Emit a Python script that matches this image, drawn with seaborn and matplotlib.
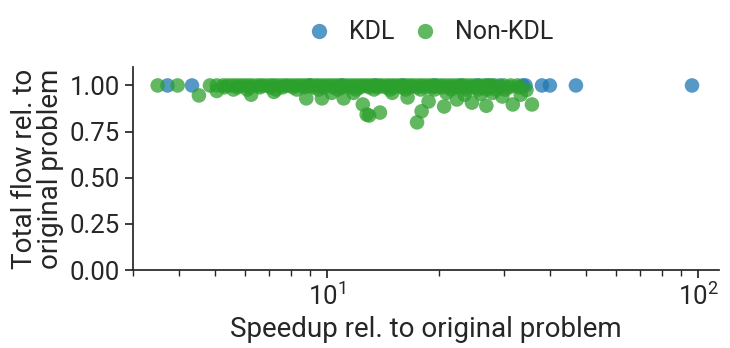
import matplotlib
matplotlib.use("Agg")
import matplotlib.pyplot as plt
import pandas as pd
import seaborn as sns

# KDL instances: speedup and relative total flow
kdl_speedup = [3.72, 4.33, 9.0, 11.0, 13.5, 16.0, 19.5, 23.0, 25.5, 27.0, 27.8,
               29.3, 33.7, 34.3, 38.0, 39.9, 46.9, 96.4]
kdl_flow = [1.0] * len(kdl_speedup)

# Non-KDL instances, main band at (almost) no flow loss
band_speedup = [
    3.5, 3.96, 4.84, 5.05, 5.25, 5.4, 5.55, 5.7, 5.85, 6.0, 6.15, 6.3, 6.5,
    6.65, 6.8, 7.0, 7.15, 7.3, 7.5, 7.7, 7.85, 8.05, 8.25, 8.45, 8.65, 8.85,
    9.05, 9.3, 9.5, 9.75, 10.0, 10.25, 10.5, 10.75, 11.0, 11.3, 11.6, 11.9,
    12.2, 12.5, 12.8, 13.1, 13.45, 13.8, 14.1, 14.5, 14.85, 15.2, 15.6, 16.0,
    16.4, 16.8, 17.2, 17.7, 18.1, 18.6, 19.1, 19.6, 20.1, 20.6, 21.2, 21.8,
    22.4, 23.0, 23.6, 24.3, 25.0, 25.8, 26.6, 27.4, 28.3, 30.0, 31.3, 32.6,
    5.3, 5.75, 6.2, 6.6, 7.05, 7.6, 8.1, 8.7, 9.2, 9.8, 10.4, 11.0, 11.7,
    12.3, 13.0, 13.7, 14.4, 15.1, 15.9, 16.7, 17.5, 18.4, 19.3, 20.3, 21.3,
    22.4, 23.5, 24.8, 26.2, 27.7, 29.3, 31.0,
    5.6, 6.1, 7.3, 8.3, 9.5, 10.7, 12.0, 13.4, 14.8, 16.3, 17.9, 19.5, 21.6,
    23.8, 25.5, 27.0, 28.6, 30.2,
]
band_flow = (
    [1.0] * 74
    + [0.99] * 32
    + [0.978] * 18
)

# Non-KDL instances that lose some flow
loss_speedup = [
    4.52, 5.05, 6.25, 7.2, 8.8, 9.7, 10.3, 11.1, 11.8, 12.5, 12.8, 13.0,
    13.9, 15.0, 16.5, 17.5, 18.0, 18.8, 21.0, 20.7, 22.4, 23.5, 24.6, 26.0,
    26.9, 28.0, 29.7, 31.7, 33.3, 33.0, 34.5, 35.7,
]
loss_flow = [
    0.946, 0.97, 0.95, 0.965, 0.93, 0.93, 0.96, 0.93, 0.96, 0.897, 0.842,
    0.837, 0.853, 0.96, 0.935, 0.80, 0.86, 0.913, 0.96, 0.886, 0.924, 0.95,
    0.907, 0.955, 0.89, 0.96, 0.94, 0.897, 0.95, 0.99, 0.975, 0.897,
]

nonkdl_speedup = band_speedup + loss_speedup
nonkdl_flow = band_flow + loss_flow

df = pd.DataFrame({
    "speedup": kdl_speedup + nonkdl_speedup,
    "flow": kdl_flow + nonkdl_flow,
    "type": ["KDL"] * len(kdl_speedup) + ["Non-KDL"] * len(nonkdl_speedup),
})

sns.set_theme(style="ticks", font="Roboto")
plt.rcParams.update({
    "font.family": ["Roboto", "DejaVu Sans"],
    "axes.labelsize": 20,
    "xtick.labelsize": 18.5,
    "ytick.labelsize": 18.5,
    "legend.fontsize": 18,
    "text.color": "#262626",
    "axes.labelcolor": "#262626",
    "xtick.color": "#262626",
    "ytick.color": "#262626",
    "axes.linewidth": 1.25,
    "xtick.major.size": 6,
    "ytick.major.size": 6,
    "xtick.minor.size": 4,
})

fig, ax = plt.subplots(figsize=(7.3, 3.48), dpi=100)
fig.subplots_adjust(left=0.182, right=0.985, bottom=0.224, top=0.8075)

sns.scatterplot(
    data=df, x="speedup", y="flow", hue="type",
    palette={"KDL": "tab:blue", "Non-KDL": "tab:green"},
    s=110, alpha=0.75, linewidth=0, ax=ax,
)

ax.set_xscale("log")
ax.set_xlim(3.0, 114)
ax.set_ylim(0, 1.1)
ax.set_yticks([0, 0.25, 0.5, 0.75, 1.0])
ax.set_yticklabels(["0.00", "0.25", "0.50", "0.75", "1.00"])
ax.set_xlabel("Speedup rel. to original problem")
ax.set_ylabel("Total flow rel. to\noriginal problem", linespacing=0.95)
sns.despine(ax=ax)

ax.legend(
    loc="lower center", bbox_to_anchor=(0.5, 1.0), ncol=2, frameon=False,
    handlelength=1.6, handletextpad=0.4, columnspacing=0.4, markerscale=1.05,
)

fig.savefig("out.png", dpi=100)
plt.close(fig)
